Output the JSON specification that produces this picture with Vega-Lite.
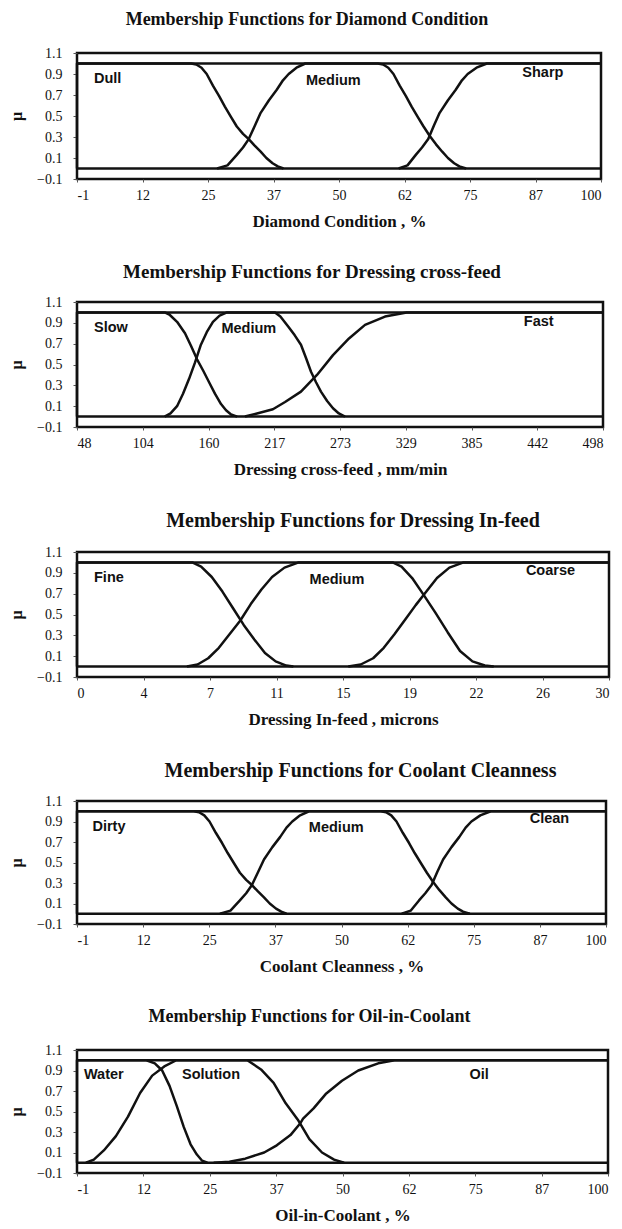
{
"$schema": "https://vega.github.io/schema/vega-lite/v6.json",
"background": "white",
"padding": {"left": 7, "top": 9, "right": 5, "bottom": 1},
"spacing": 30,
"config": {
  "view": {"stroke": "#111", "strokeWidth": 2.5},
  "title": {"font": "Liberation Serif", "fontSize": 18, "fontWeight": "bold", "color": "#111", "anchor": "middle"},
  "axis": {"grid": false, "domain": false, "labelFont": "Liberation Serif", "labelFontSize": 14, "labelColor": "#111", "tickColor": "#555", "titleFont": "Liberation Serif", "titleFontWeight": "bold", "titleColor": "#111", "labelOverlap": false},
  "axisX": {"tickSize": 3, "labelPadding": 6, "titlePadding": 11, "titleFontSize": 17, "tickCount": 20},
  "axisY": {"tickSize": 4, "labelPadding": 11, "titlePadding": 12, "titleFontSize": 16, "tickCount": 10}
},
"datasets": {
  "r": [{"y": 0}, {"y": 1}],
  "c1": [
    {"mf":"Dull","x":-1,"y":0},{"mf":"Dull","x":-1,"y":1},{"mf":"Dull","x":21,"y":1},{"mf":"Dull","x":22,"y":0.99},{"mf":"Dull","x":23,"y":0.96},{"mf":"Dull","x":24,"y":0.9},{"mf":"Dull","x":25.2,"y":0.79},{"mf":"Dull","x":26.4,"y":0.69},{"mf":"Dull","x":27.5,"y":0.59},{"mf":"Dull","x":28.7,"y":0.49},{"mf":"Dull","x":29.8,"y":0.4},{"mf":"Dull","x":31,"y":0.33},{"mf":"Dull","x":32.1,"y":0.28},{"mf":"Dull","x":33.2,"y":0.22},{"mf":"Dull","x":34.4,"y":0.16},{"mf":"Dull","x":35.5,"y":0.1},{"mf":"Dull","x":36.7,"y":0.05},{"mf":"Dull","x":37.7,"y":0.02},{"mf":"Dull","x":38.8,"y":0},
    {"mf":"Medium","x":26,"y":0},{"mf":"Medium","x":28,"y":0.03},{"mf":"Medium","x":29.8,"y":0.13},{"mf":"Medium","x":31,"y":0.2},{"mf":"Medium","x":32.1,"y":0.28},{"mf":"Medium","x":33.3,"y":0.41},{"mf":"Medium","x":34.4,"y":0.53},{"mf":"Medium","x":36,"y":0.65},{"mf":"Medium","x":37.5,"y":0.75},{"mf":"Medium","x":38.7,"y":0.84},{"mf":"Medium","x":39.8,"y":0.9},{"mf":"Medium","x":41.3,"y":0.96},{"mf":"Medium","x":43,"y":1},{"mf":"Medium","x":57,"y":1},{"mf":"Medium","x":58,"y":0.99},{"mf":"Medium","x":59,"y":0.96},{"mf":"Medium","x":60,"y":0.9},{"mf":"Medium","x":61.2,"y":0.79},{"mf":"Medium","x":62.4,"y":0.69},{"mf":"Medium","x":63.5,"y":0.59},{"mf":"Medium","x":64.7,"y":0.49},{"mf":"Medium","x":65.8,"y":0.4},{"mf":"Medium","x":67,"y":0.31},{"mf":"Medium","x":68.2,"y":0.23},{"mf":"Medium","x":69.4,"y":0.16},{"mf":"Medium","x":70.5,"y":0.1},{"mf":"Medium","x":71.7,"y":0.05},{"mf":"Medium","x":72.7,"y":0.02},{"mf":"Medium","x":74,"y":0},
    {"mf":"Sharp","x":61,"y":0},{"mf":"Sharp","x":62.7,"y":0.03},{"mf":"Sharp","x":64.3,"y":0.13},{"mf":"Sharp","x":65.5,"y":0.2},{"mf":"Sharp","x":66.7,"y":0.28},{"mf":"Sharp","x":67.8,"y":0.41},{"mf":"Sharp","x":68.9,"y":0.53},{"mf":"Sharp","x":70.5,"y":0.65},{"mf":"Sharp","x":72,"y":0.75},{"mf":"Sharp","x":73.2,"y":0.84},{"mf":"Sharp","x":74.3,"y":0.9},{"mf":"Sharp","x":76,"y":0.96},{"mf":"Sharp","x":78,"y":1},{"mf":"Sharp","x":100,"y":1}
  ],
  "l1": [{"label":"Dull","x":4.9,"y":0.85},{"label":"Medium","x":48.4,"y":0.83},{"label":"Sharp","x":88.8,"y":0.91}],
  "c2": [
    {"mf":"Slow","x":48,"y":0},{"mf":"Slow","x":48,"y":1},{"mf":"Slow","x":123,"y":1},{"mf":"Slow","x":127,"y":0.98},{"mf":"Slow","x":133.6,"y":0.91},{"mf":"Slow","x":140.4,"y":0.8},{"mf":"Slow","x":145.5,"y":0.68},{"mf":"Slow","x":150.7,"y":0.55},{"mf":"Slow","x":156,"y":0.44},{"mf":"Slow","x":161,"y":0.33},{"mf":"Slow","x":166,"y":0.22},{"mf":"Slow","x":171.2,"y":0.12},{"mf":"Slow","x":175.5,"y":0.06},{"mf":"Slow","x":179.8,"y":0.02},{"mf":"Slow","x":185,"y":0},
    {"mf":"Medium","x":123,"y":0},{"mf":"Medium","x":128,"y":0.03},{"mf":"Medium","x":133.6,"y":0.1},{"mf":"Medium","x":138.7,"y":0.22},{"mf":"Medium","x":143.8,"y":0.36},{"mf":"Medium","x":149,"y":0.52},{"mf":"Medium","x":154,"y":0.69},{"mf":"Medium","x":159,"y":0.81},{"mf":"Medium","x":164.3,"y":0.91},{"mf":"Medium","x":170,"y":0.97},{"mf":"Medium","x":176.3,"y":1},{"mf":"Medium","x":217.4,"y":1},{"mf":"Medium","x":222,"y":0.96},{"mf":"Medium","x":229,"y":0.86},{"mf":"Medium","x":234.3,"y":0.78},{"mf":"Medium","x":239.6,"y":0.69},{"mf":"Medium","x":244,"y":0.56},{"mf":"Medium","x":248.2,"y":0.43},{"mf":"Medium","x":252.5,"y":0.33},{"mf":"Medium","x":256.7,"y":0.24},{"mf":"Medium","x":262,"y":0.15},{"mf":"Medium","x":267,"y":0.08},{"mf":"Medium","x":272,"y":0.03},{"mf":"Medium","x":277.3,"y":0},
    {"mf":"Fast","x":191.7,"y":0},{"mf":"Fast","x":202,"y":0.03},{"mf":"Fast","x":215.6,"y":0.07},{"mf":"Fast","x":226,"y":0.14},{"mf":"Fast","x":239.6,"y":0.24},{"mf":"Fast","x":253.3,"y":0.4},{"mf":"Fast","x":267,"y":0.59},{"mf":"Fast","x":280.7,"y":0.75},{"mf":"Fast","x":294.4,"y":0.88},{"mf":"Fast","x":311.5,"y":0.96},{"mf":"Fast","x":330,"y":1},{"mf":"Fast","x":498,"y":1}
  ],
  "l2": [{"label":"Slow","x":77,"y":0.85},{"label":"Medium","x":195,"y":0.84},{"label":"Fast","x":443,"y":0.91}],
  "c3": [
    {"mf":"Fine","x":0,"y":0},{"mf":"Fine","x":0,"y":1},{"mf":"Fine","x":6.5,"y":1},{"mf":"Fine","x":7,"y":0.96},{"mf":"Fine","x":7.6,"y":0.86},{"mf":"Fine","x":8.2,"y":0.72},{"mf":"Fine","x":8.8,"y":0.56},{"mf":"Fine","x":9.4,"y":0.4},{"mf":"Fine","x":10,"y":0.26},{"mf":"Fine","x":10.6,"y":0.13},{"mf":"Fine","x":11.2,"y":0.05},{"mf":"Fine","x":11.8,"y":0.01},{"mf":"Fine","x":12.2,"y":0},
    {"mf":"Medium","x":6.2,"y":0},{"mf":"Medium","x":6.8,"y":0.02},{"mf":"Medium","x":7.4,"y":0.08},{"mf":"Medium","x":8,"y":0.18},{"mf":"Medium","x":8.6,"y":0.31},{"mf":"Medium","x":9.2,"y":0.44},{"mf":"Medium","x":9.8,"y":0.6},{"mf":"Medium","x":10.4,"y":0.74},{"mf":"Medium","x":11,"y":0.86},{"mf":"Medium","x":11.7,"y":0.95},{"mf":"Medium","x":12.5,"y":1},{"mf":"Medium","x":17.8,"y":1},{"mf":"Medium","x":18.3,"y":0.96},{"mf":"Medium","x":18.9,"y":0.85},{"mf":"Medium","x":19.5,"y":0.7},{"mf":"Medium","x":20.2,"y":0.52},{"mf":"Medium","x":20.9,"y":0.33},{"mf":"Medium","x":21.6,"y":0.15},{"mf":"Medium","x":22.3,"y":0.05},{"mf":"Medium","x":23,"y":0.01},{"mf":"Medium","x":23.5,"y":0},
    {"mf":"Coarse","x":15.3,"y":0},{"mf":"Coarse","x":16,"y":0.02},{"mf":"Coarse","x":16.7,"y":0.08},{"mf":"Coarse","x":17.3,"y":0.18},{"mf":"Coarse","x":17.9,"y":0.31},{"mf":"Coarse","x":18.5,"y":0.45},{"mf":"Coarse","x":19.1,"y":0.59},{"mf":"Coarse","x":19.7,"y":0.72},{"mf":"Coarse","x":20.3,"y":0.85},{"mf":"Coarse","x":21,"y":0.95},{"mf":"Coarse","x":21.8,"y":1},{"mf":"Coarse","x":30,"y":1}
  ],
  "l3": [{"label":"Fine","x":1.8,"y":0.85},{"label":"Medium","x":14.66,"y":0.83},{"label":"Coarse","x":26.7,"y":0.92}],
  "c4": [
    {"mf":"Dirty","x":-1,"y":0},{"mf":"Dirty","x":-1,"y":1},{"mf":"Dirty","x":21.3,"y":1},{"mf":"Dirty","x":22.3,"y":0.99},{"mf":"Dirty","x":23.3,"y":0.96},{"mf":"Dirty","x":24.3,"y":0.9},{"mf":"Dirty","x":25.5,"y":0.79},{"mf":"Dirty","x":26.7,"y":0.69},{"mf":"Dirty","x":27.8,"y":0.59},{"mf":"Dirty","x":29,"y":0.49},{"mf":"Dirty","x":30.1,"y":0.4},{"mf":"Dirty","x":31.3,"y":0.33},{"mf":"Dirty","x":32.4,"y":0.28},{"mf":"Dirty","x":33.5,"y":0.22},{"mf":"Dirty","x":34.7,"y":0.16},{"mf":"Dirty","x":35.8,"y":0.1},{"mf":"Dirty","x":37,"y":0.05},{"mf":"Dirty","x":38,"y":0.02},{"mf":"Dirty","x":39,"y":0},
    {"mf":"Medium","x":26.3,"y":0},{"mf":"Medium","x":28.3,"y":0.03},{"mf":"Medium","x":30.1,"y":0.13},{"mf":"Medium","x":31.3,"y":0.2},{"mf":"Medium","x":32.4,"y":0.28},{"mf":"Medium","x":33.6,"y":0.41},{"mf":"Medium","x":34.7,"y":0.53},{"mf":"Medium","x":36.3,"y":0.65},{"mf":"Medium","x":37.8,"y":0.75},{"mf":"Medium","x":39,"y":0.84},{"mf":"Medium","x":40.1,"y":0.9},{"mf":"Medium","x":41.6,"y":0.96},{"mf":"Medium","x":43.3,"y":1},{"mf":"Medium","x":57,"y":1},{"mf":"Medium","x":58,"y":0.99},{"mf":"Medium","x":59,"y":0.96},{"mf":"Medium","x":60,"y":0.9},{"mf":"Medium","x":61.2,"y":0.79},{"mf":"Medium","x":62.4,"y":0.69},{"mf":"Medium","x":63.5,"y":0.59},{"mf":"Medium","x":64.7,"y":0.49},{"mf":"Medium","x":65.8,"y":0.4},{"mf":"Medium","x":67,"y":0.31},{"mf":"Medium","x":68.2,"y":0.23},{"mf":"Medium","x":69.4,"y":0.16},{"mf":"Medium","x":70.5,"y":0.1},{"mf":"Medium","x":71.7,"y":0.05},{"mf":"Medium","x":72.7,"y":0.02},{"mf":"Medium","x":74,"y":0},
    {"mf":"Clean","x":61,"y":0},{"mf":"Clean","x":62.7,"y":0.03},{"mf":"Clean","x":64.3,"y":0.13},{"mf":"Clean","x":65.5,"y":0.2},{"mf":"Clean","x":66.7,"y":0.28},{"mf":"Clean","x":67.8,"y":0.41},{"mf":"Clean","x":68.9,"y":0.53},{"mf":"Clean","x":70.5,"y":0.65},{"mf":"Clean","x":72,"y":0.75},{"mf":"Clean","x":73.2,"y":0.84},{"mf":"Clean","x":74.3,"y":0.9},{"mf":"Clean","x":76,"y":0.96},{"mf":"Clean","x":78,"y":1},{"mf":"Clean","x":100,"y":1}
  ],
  "l4": [{"label":"Dirty","x":5.1,"y":0.85},{"label":"Medium","x":48.5,"y":0.84},{"label":"Clean","x":89.2,"y":0.92}],
  "c5": [
    {"mf":"Water","x":-1,"y":0},{"mf":"Water","x":-1,"y":1},{"mf":"Water","x":12.2,"y":1},{"mf":"Water","x":13.8,"y":0.97},{"mf":"Water","x":15.2,"y":0.9},{"mf":"Water","x":16.6,"y":0.75},{"mf":"Water","x":18,"y":0.55},{"mf":"Water","x":19.3,"y":0.35},{"mf":"Water","x":20.6,"y":0.18},{"mf":"Water","x":21.8,"y":0.08},{"mf":"Water","x":22.8,"y":0.02},{"mf":"Water","x":23.8,"y":0},
    {"mf":"Solution","x":0.7,"y":0},{"mf":"Solution","x":2.2,"y":0.03},{"mf":"Solution","x":4.1,"y":0.12},{"mf":"Solution","x":6.4,"y":0.26},{"mf":"Solution","x":8.7,"y":0.45},{"mf":"Solution","x":11,"y":0.68},{"mf":"Solution","x":13.3,"y":0.85},{"mf":"Solution","x":15.6,"y":0.94},{"mf":"Solution","x":17.9,"y":1},{"mf":"Solution","x":31.4,"y":1},{"mf":"Solution","x":34,"y":0.91},{"mf":"Solution","x":36.4,"y":0.78},{"mf":"Solution","x":38.7,"y":0.58},{"mf":"Solution","x":41,"y":0.42},{"mf":"Solution","x":43.2,"y":0.23},{"mf":"Solution","x":45.6,"y":0.1},{"mf":"Solution","x":47.9,"y":0.03},{"mf":"Solution","x":49.8,"y":0},
    {"mf":"Oil","x":25,"y":0},{"mf":"Oil","x":28,"y":0.01},{"mf":"Oil","x":31,"y":0.04},{"mf":"Oil","x":34.6,"y":0.1},{"mf":"Oil","x":37,"y":0.17},{"mf":"Oil","x":39.6,"y":0.27},{"mf":"Oil","x":41.4,"y":0.38},{"mf":"Oil","x":42,"y":0.43},{"mf":"Oil","x":44,"y":0.53},{"mf":"Oil","x":46.3,"y":0.67},{"mf":"Oil","x":49.4,"y":0.8},{"mf":"Oil","x":52.5,"y":0.9},{"mf":"Oil","x":56.3,"y":0.97},{"mf":"Oil","x":59.4,"y":1},{"mf":"Oil","x":100,"y":1}
  ],
  "l5": [{"label":"Water","x":4.1,"y":0.86},{"label":"Solution","x":24.5,"y":0.86},{"label":"Oil","x":75.5,"y":0.86}]
},
"vconcat": [
  {
    "title": {"text": "Membership Functions for  Diamond Condition", "dx": -32, "fontSize": 18, "offset": 17},
    "width": 524, "height": 126,
    "layer": [
      {"data": {"name": "r"}, "mark": {"type": "rule", "color": "#111", "strokeWidth": 2.5},
       "encoding": {"y": {"field": "y", "type": "quantitative", "title": "μ", "scale": {"domain": [-0.1, 1.1], "nice": false, "zero": false}, "axis": {"values": [-0.1, 0.1, 0.3, 0.5, 0.7, 0.9, 1.1], "format": ".1f", "tickCount": 10, "labelOverlap": false}}}},
      {"data": {"name": "c1"}, "transform": [{"window": [{"op": "row_number", "as": "i"}], "groupby": ["mf"]}],
       "mark": {"type": "line", "color": "#111", "strokeWidth": 2.5, "strokeJoin": "round"},
       "encoding": {
         "x": {"field": "x", "type": "quantitative", "title": "Diamond Condition , %", "scale": {"domain": [-1, 100], "nice": false, "zero": false},
               "axis": {"values": [-1, 11.625, 24.25, 36.875, 49.5, 62.125, 74.75, 87.375, 100], "tickCount": 20, "labelExpr": "['-1','12','25','37','50','62','75','87','100'][round((datum.value+1)/12.625)]"}},
         "y": {"field": "y", "type": "quantitative", "title": "μ"},
         "detail": {"field": "mf"}, "order": {"field": "i"}}},
      {"data": {"name": "l1"}, "mark": {"type": "text", "font": "Liberation Sans", "fontWeight": "bold", "fontSize": 14.5, "color": "#111"},
       "encoding": {"x": {"field": "x", "type": "quantitative", "title": "Diamond Condition , %"}, "y": {"field": "y", "type": "quantitative", "title": "μ"}, "text": {"field": "label"}}}
    ]
  },
  {
    "title": {"text": "Membership Functions for  Dressing cross-feed", "dx": -28, "fontSize": 19, "offset": 13},
    "width": 526, "height": 125,
    "layer": [
      {"data": {"name": "r"}, "mark": {"type": "rule", "color": "#111", "strokeWidth": 2.5},
       "encoding": {"y": {"field": "y", "type": "quantitative", "title": "μ", "scale": {"domain": [-0.1, 1.1], "nice": false, "zero": false}, "axis": {"values": [-0.1, 0.1, 0.3, 0.5, 0.7, 0.9, 1.1], "format": ".1f", "tickCount": 10, "labelOverlap": false}}}},
      {"data": {"name": "c2"}, "transform": [{"window": [{"op": "row_number", "as": "i"}], "groupby": ["mf"]}],
       "mark": {"type": "line", "color": "#111", "strokeWidth": 2.5, "strokeJoin": "round"},
       "encoding": {
         "x": {"field": "x", "type": "quantitative", "title": "Dressing cross-feed , mm/min", "scale": {"domain": [48, 498], "nice": false, "zero": false},
               "axis": {"values": [48, 104.25, 160.5, 216.75, 273, 329.25, 385.5, 441.75, 498], "tickCount": 20, "labelExpr": "['48','104','160','217','273','329','385','442','498'][round((datum.value-48)/56.25)]"}},
         "y": {"field": "y", "type": "quantitative", "title": "μ"},
         "detail": {"field": "mf"}, "order": {"field": "i"}}},
      {"data": {"name": "l2"}, "mark": {"type": "text", "font": "Liberation Sans", "fontWeight": "bold", "fontSize": 14.5, "color": "#111"},
       "encoding": {"x": {"field": "x", "type": "quantitative", "title": "Dressing cross-feed , mm/min"}, "y": {"field": "y", "type": "quantitative", "title": "μ"}, "text": {"field": "label"}}}
    ]
  },
  {
    "title": {"text": "Membership Functions for  Dressing In-feed", "dx": 10, "fontSize": 20, "offset": 14},
    "width": 532, "height": 125,
    "layer": [
      {"data": {"name": "r"}, "mark": {"type": "rule", "color": "#111", "strokeWidth": 2.5},
       "encoding": {"y": {"field": "y", "type": "quantitative", "title": "μ", "scale": {"domain": [-0.1, 1.1], "nice": false, "zero": false}, "axis": {"values": [-0.1, 0.1, 0.3, 0.5, 0.7, 0.9, 1.1], "format": ".1f", "tickCount": 10, "labelOverlap": false}}}},
      {"data": {"name": "c3"}, "transform": [{"window": [{"op": "row_number", "as": "i"}], "groupby": ["mf"]}],
       "mark": {"type": "line", "color": "#111", "strokeWidth": 2.5, "strokeJoin": "round"},
       "encoding": {
         "x": {"field": "x", "type": "quantitative", "title": "Dressing In-feed , microns", "scale": {"domain": [0, 30], "nice": false, "zero": false},
               "axis": {"values": [0, 3.75, 7.5, 11.25, 15, 18.75, 22.5, 26.25, 30], "tickCount": 20, "labelExpr": "['0','4','7','11','15','19','22','26','30'][round(datum.value/3.75)]"}},
         "y": {"field": "y", "type": "quantitative", "title": "μ"},
         "detail": {"field": "mf"}, "order": {"field": "i"}}},
      {"data": {"name": "l3"}, "mark": {"type": "text", "font": "Liberation Sans", "fontWeight": "bold", "fontSize": 14.5, "color": "#111"},
       "encoding": {"x": {"field": "x", "type": "quantitative", "title": "Dressing In-feed , microns"}, "y": {"field": "y", "type": "quantitative", "title": "μ"}, "text": {"field": "label"}}}
    ]
  },
  {
    "title": {"text": "Membership Functions for  Coolant Cleanness", "dx": 19, "fontSize": 20, "offset": 13},
    "width": 529, "height": 123,
    "layer": [
      {"data": {"name": "r"}, "mark": {"type": "rule", "color": "#111", "strokeWidth": 2.5},
       "encoding": {"y": {"field": "y", "type": "quantitative", "title": "μ", "scale": {"domain": [-0.1, 1.1], "nice": false, "zero": false}, "axis": {"values": [-0.1, 0.1, 0.3, 0.5, 0.7, 0.9, 1.1], "format": ".1f", "tickCount": 10, "labelOverlap": false}}}},
      {"data": {"name": "c4"}, "transform": [{"window": [{"op": "row_number", "as": "i"}], "groupby": ["mf"]}],
       "mark": {"type": "line", "color": "#111", "strokeWidth": 2.5, "strokeJoin": "round"},
       "encoding": {
         "x": {"field": "x", "type": "quantitative", "title": "Coolant Cleanness , %", "scale": {"domain": [-1, 100], "nice": false, "zero": false},
               "axis": {"values": [-1, 11.625, 24.25, 36.875, 49.5, 62.125, 74.75, 87.375, 100], "tickCount": 20, "labelExpr": "['-1','12','25','37','50','62','75','87','100'][round((datum.value+1)/12.625)]"}},
         "y": {"field": "y", "type": "quantitative", "title": "μ"},
         "detail": {"field": "mf"}, "order": {"field": "i"}}},
      {"data": {"name": "l4"}, "mark": {"type": "text", "font": "Liberation Sans", "fontWeight": "bold", "fontSize": 14.5, "color": "#111"},
       "encoding": {"x": {"field": "x", "type": "quantitative", "title": "Coolant Cleanness , %"}, "y": {"field": "y", "type": "quantitative", "title": "μ"}, "text": {"field": "label"}}}
    ]
  },
  {
    "title": {"text": "Membership Functions for  Oil-in-Coolant", "dx": -33, "fontSize": 18, "offset": 17},
    "width": 531, "height": 123,
    "layer": [
      {"data": {"name": "r"}, "mark": {"type": "rule", "color": "#111", "strokeWidth": 2.5},
       "encoding": {"y": {"field": "y", "type": "quantitative", "title": "μ", "scale": {"domain": [-0.1, 1.1], "nice": false, "zero": false}, "axis": {"values": [-0.1, 0.1, 0.3, 0.5, 0.7, 0.9, 1.1], "format": ".1f", "tickCount": 10, "labelOverlap": false}}}},
      {"data": {"name": "c5"}, "transform": [{"window": [{"op": "row_number", "as": "i"}], "groupby": ["mf"]}],
       "mark": {"type": "line", "color": "#111", "strokeWidth": 2.5, "strokeJoin": "round"},
       "encoding": {
         "x": {"field": "x", "type": "quantitative", "title": "Oil-in-Coolant , %", "scale": {"domain": [-1, 100], "nice": false, "zero": false},
               "axis": {"values": [-1, 11.625, 24.25, 36.875, 49.5, 62.125, 74.75, 87.375, 100], "tickCount": 20, "labelExpr": "['-1','12','25','37','50','62','75','87','100'][round((datum.value+1)/12.625)]"}},
         "y": {"field": "y", "type": "quantitative", "title": "μ"},
         "detail": {"field": "mf"}, "order": {"field": "i"}}},
      {"data": {"name": "l5"}, "mark": {"type": "text", "font": "Liberation Sans", "fontWeight": "bold", "fontSize": 14.5, "color": "#111"},
       "encoding": {"x": {"field": "x", "type": "quantitative", "title": "Oil-in-Coolant , %"}, "y": {"field": "y", "type": "quantitative", "title": "μ"}, "text": {"field": "label"}}}
    ]
  }
]
}
